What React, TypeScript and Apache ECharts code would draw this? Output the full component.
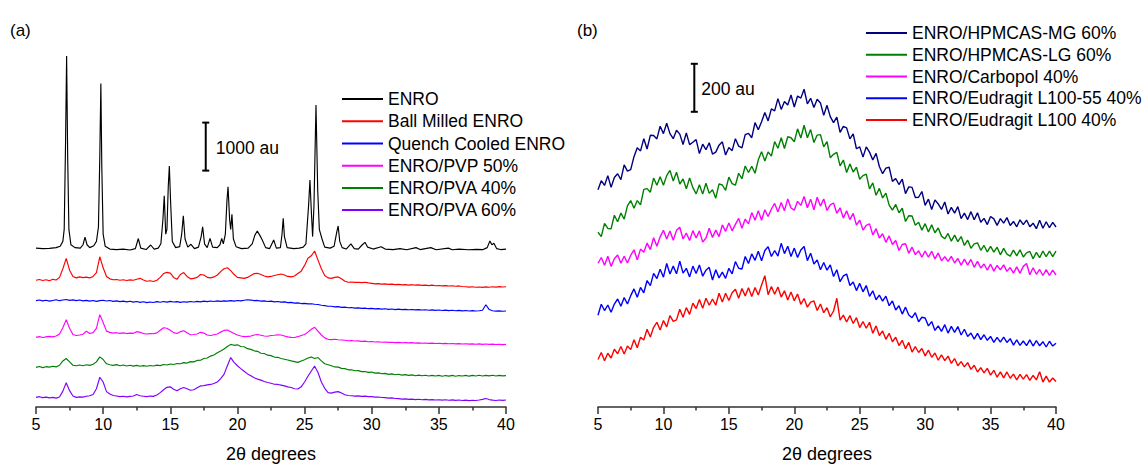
import { useEffect, useRef } from "react";
import * as echarts from "echarts";

const FONT = "'Liberation Sans', Arial, Helvetica, sans-serif";

// shared 2θ grid (degrees)
const twoTheta = [
  5, 5.25, 5.5, 5.75, 6, 6.25, 6.5, 6.75, 7, 7.25, 7.5, 7.75, 8, 8.25, 8.5, 8.75,
  9, 9.25, 9.5, 9.75, 10, 10.25, 10.5, 10.75, 11, 11.25, 11.5, 11.75, 12, 12.25, 12.5, 12.75,
  13, 13.25, 13.5, 13.75, 14, 14.25, 14.5, 14.75, 15, 15.25, 15.5, 15.75, 16, 16.25, 16.5, 16.75,
  17, 17.25, 17.5, 17.75, 18, 18.25, 18.5, 18.75, 19, 19.25, 19.5, 19.75, 20, 20.25, 20.5, 20.75,
  21, 21.25, 21.5, 21.75, 22, 22.25, 22.5, 22.75, 23, 23.25, 23.5, 23.75, 24, 24.25, 24.5, 24.75,
  25, 25.25, 25.5, 25.75, 26, 26.25, 26.5, 26.75, 27, 27.25, 27.5, 27.75, 28, 28.25, 28.5, 28.75,
  29, 29.25, 29.5, 29.75, 30, 30.25, 30.5, 30.75, 31, 31.25, 31.5, 31.75, 32, 32.25, 32.5, 32.75,
  33, 33.25, 33.5, 33.75, 34, 34.25, 34.5, 34.75, 35, 35.25, 35.5, 35.75, 36, 36.25, 36.5, 36.75,
  37, 37.25, 37.5, 37.75, 38, 38.25, 38.5, 38.75, 39, 39.25, 39.5, 39.75, 40,
];

// ---------- panel (a), intensities in au (stacked offsets included) ----------
const enroPattern = [
  [5, 3310], [5.5, 3300], [6, 3305], [6.5, 3320], [6.8, 3350], [7.0, 3450], [7.1, 3700], [7.2, 5500],
  [7.28, 7310], [7.36, 5200], [7.45, 3700], [7.6, 3380], [7.9, 3320], [8.3, 3310], [8.5, 3380], [8.65, 3540],
  [8.8, 3380], [9.0, 3320], [9.3, 3360], [9.5, 3450], [9.65, 3750], [9.75, 5200], [9.83, 6740], [9.9, 5000],
  [10.0, 3600], [10.15, 3350], [10.5, 3290], [11, 3280], [11.5, 3290], [12, 3270], [12.4, 3300], [12.62, 3510],
  [12.8, 3310], [13.2, 3280], [13.54, 3375], [13.8, 3290], [14.1, 3310], [14.3, 3400], [14.45, 3900], [14.55, 4400],
  [14.66, 3600], [14.75, 3700], [14.85, 4600], [14.93, 5020], [15.02, 4300], [15.15, 3450], [15.4, 3320], [15.7, 3340],
  [15.85, 3600], [15.97, 3985], [16.1, 3500], [16.3, 3330], [16.54, 3390], [16.8, 3300], [17.1, 3330], [17.3, 3550],
  [17.41, 3756], [17.55, 3400], [17.75, 3320], [17.96, 3514], [18.15, 3330], [18.5, 3320], [18.7, 3380], [18.83, 3514],
  [18.95, 3400], [19.1, 3600], [19.22, 4300], [19.3, 4590], [19.42, 3900], [19.5, 3700], [19.59, 4014], [19.7, 3500],
  [19.9, 3340], [20.3, 3300], [20.8, 3310], [21.1, 3400], [21.3, 3580], [21.48, 3667], [21.7, 3560], [21.85, 3480],
  [22.1, 3320], [22.4, 3300], [22.7, 3479], [22.9, 3310], [23.2, 3320], [23.32, 3600], [23.41, 3931], [23.5, 3550],
  [23.7, 3320], [24.2, 3300], [24.6, 3310], [24.9, 3330], [25.1, 3400], [25.3, 4200], [25.4, 4729], [25.5, 4100],
  [25.6, 3550], [25.7, 4200], [25.85, 6292], [25.98, 4500], [26.1, 3700], [26.15, 3650], [26.3, 3500], [26.5, 3330],
  [26.9, 3310], [27.2, 3350], [27.4, 3650], [27.5, 3771], [27.62, 3450], [27.8, 3320], [28.1, 3290], [28.45, 3400],
  [28.7, 3300], [29.0, 3290], [29.3, 3380], [29.5, 3431], [29.7, 3330], [30.1, 3290], [30.7, 3340], [31.0, 3290],
  [31.6, 3280], [32.1, 3300], [32.6, 3275], [33.3, 3320], [33.6, 3280], [34.4, 3320], [34.8, 3275], [35.7, 3310],
  [36.0, 3275], [36.5, 3290], [37.2, 3275], [37.8, 3285], [38.3, 3280], [38.6, 3320], [38.8, 3458], [38.95, 3380],
  [39.1, 3410], [39.3, 3300], [39.6, 3280], [40, 3290],
];

const ballMilled = [
  2640, 2655, 2635, 2650, 2630, 2660, 2645, 2700, 2880, 3095, 2850, 2720, 2690, 2710, 2695, 2705,
  2690, 2720, 2800, 3130, 2900, 2720, 2670, 2650, 2655, 2640, 2650, 2635, 2648, 2640, 2660, 2680,
  2645, 2620, 2630, 2615, 2640, 2700, 2780, 2805, 2790, 2700, 2660, 2760, 2800, 2720, 2670, 2680,
  2700, 2760, 2750, 2700, 2690, 2710, 2750, 2820, 2880, 2900, 2840, 2760, 2700, 2690, 2680, 2700,
  2740, 2780, 2785, 2760, 2730, 2710, 2720, 2740, 2755, 2770, 2750, 2720, 2710, 2730, 2780, 2830,
  2950, 3100, 3150, 3250, 3060, 2880, 2740, 2690, 2680, 2700, 2710, 2670, 2620, 2600, 2605, 2595,
  2600, 2590, 2598, 2585, 2575, 2565, 2570, 2560, 2565, 2555, 2560, 2550, 2555, 2545, 2550, 2540,
  2548, 2538, 2545, 2535, 2540, 2530, 2538, 2525, 2532, 2522, 2530, 2520, 2525, 2515, 2522, 2510,
  2505, 2498, 2505, 2495, 2500, 2492, 2502, 2495, 2505, 2498, 2508, 2500, 2505,
];

const quenchCooled = [
  2215, 2230, 2210, 2225, 2205, 2220, 2235, 2215, 2228, 2240, 2222, 2232, 2215, 2228, 2210, 2222,
  2205, 2218, 2200, 2215, 2225, 2208, 2218, 2200, 2212, 2195, 2205, 2190, 2202, 2185, 2198, 2180,
  2192, 2175, 2188, 2178, 2195, 2182, 2198, 2185, 2200, 2188, 2195, 2180, 2192, 2185, 2198, 2188,
  2200, 2190, 2205, 2195, 2208, 2198, 2210, 2200, 2212, 2205, 2215, 2205, 2218, 2210, 2225, 2235,
  2228, 2215, 2220, 2205, 2212, 2198, 2205, 2190, 2198, 2185, 2190, 2175, 2180, 2165, 2170, 2155,
  2160, 2148, 2150, 2140, 2135, 2120, 2112, 2100, 2098, 2085, 2090, 2075, 2080, 2068, 2072, 2060,
  2066, 2055, 2060, 2048, 2055, 2045, 2050, 2040, 2046, 2035, 2042, 2030, 2038, 2028, 2035, 2025,
  2032, 2022, 2030, 2020, 2026, 2015, 2024, 2012, 2020, 2010, 2018, 2008, 2015, 2005, 2012, 2002,
  2010, 2000, 2008, 2000, 2005, 2015, 2130, 2030, 2005, 1998, 2004, 1995, 2000,
];

const pvp50 = [
  1450, 1465, 1448, 1460, 1470, 1462, 1478, 1520, 1650, 1820, 1640, 1510, 1490, 1500, 1515, 1580,
  1530, 1550, 1640, 1925, 1760, 1580, 1555, 1540, 1548, 1535, 1545, 1530, 1540, 1535, 1570, 1555,
  1530, 1520, 1528, 1525, 1545, 1600, 1650, 1640, 1600, 1550, 1530, 1570, 1590, 1545, 1505, 1510,
  1520, 1555, 1540, 1500, 1490, 1505, 1520, 1560, 1595, 1605, 1570, 1530, 1500, 1480, 1465, 1470,
  1478, 1500, 1510, 1495, 1480, 1475, 1490, 1495, 1505, 1500, 1480, 1460, 1452, 1448, 1465, 1490,
  1510, 1560, 1620, 1660, 1580, 1500, 1440, 1410, 1405, 1412, 1400, 1395, 1390, 1380, 1385, 1375,
  1378, 1368, 1372, 1360, 1365, 1355, 1360, 1350, 1355, 1345, 1350, 1340, 1346, 1338, 1342, 1335,
  1340, 1332, 1336, 1328, 1334, 1325, 1330, 1322, 1328, 1320, 1325, 1318, 1322, 1315, 1320, 1312,
  1318, 1310, 1316, 1308, 1314, 1306, 1312, 1305, 1310, 1302, 1308, 1300, 1306,
];

const pva40 = [
  825, 845, 820, 840, 830, 850, 835, 870, 960, 1010, 940, 870, 860, 875, 858, 880,
  868, 890, 940, 1045, 990, 900, 880, 868, 882, 860, 875, 855, 870, 852, 868, 850,
  862, 848, 865, 855, 872, 862, 885, 875, 895, 885, 905, 900, 925, 915, 945, 940,
  970, 975, 1010, 1020, 1060, 1085, 1130, 1165, 1210, 1260, 1305, 1285, 1295, 1260, 1255, 1215,
  1200, 1170, 1160, 1120, 1115, 1080, 1070, 1040, 1035, 1010, 995, 980, 960, 945, 930, 960,
  985, 1020, 1040, 1010, 1030, 960, 900, 880, 860, 835, 830, 805, 800, 775, 775, 755,
  758, 738, 740, 722, 728, 705, 712, 692, 700, 680, 690, 672, 682, 665, 675, 660,
  670, 652, 665, 650, 662, 645, 660, 645, 658, 640, 655, 642, 658, 640, 655, 645,
  660, 642, 658, 645, 662, 645, 660, 648, 662, 645, 658, 648, 655,
];

const pva60 = [
  200, 215, 195, 205, 190, 200, 185, 210, 330, 505, 340, 230, 200, 210, 205, 225,
  235, 260, 380, 620, 520, 320, 270, 240, 230, 215, 225, 210, 220, 230, 260, 235,
  225, 215, 228, 222, 250, 300, 360, 410, 420, 370, 340, 380, 405, 380, 350, 360,
  400, 440, 445, 460, 470, 490, 520, 590, 680, 860, 1030, 930, 860, 800, 745, 690,
  650, 610, 580, 560, 530, 510, 495, 475, 470, 455, 440, 420, 405, 380, 375, 420,
  520, 640, 750, 850, 720, 520, 390, 300, 290, 310, 320, 290, 255, 240, 235, 228,
  232, 222, 226, 215, 215, 205, 208, 198, 195, 185, 190, 178, 175, 165, 170, 160,
  165, 155, 162, 150, 158, 148, 155, 145, 152, 142, 150, 140, 148, 138, 146, 135,
  142, 134, 140, 136, 145, 160, 178, 155, 142, 135, 145, 138, 146,
];

// ---------- panel (b) ----------
const hpmcasMG = [
  905, 943, 923, 964, 915, 956, 972, 947, 1009, 983, 989, 1043, 1080, 1067, 1118, 1075,
  1132, 1131, 1117, 1170, 1139, 1182, 1139, 1118, 1153, 1137, 1094, 1142, 1093, 1103, 1114, 1056,
  1095, 1072, 1101, 1054, 1062, 1091, 1105, 1050, 1081, 1068, 1118, 1087, 1080, 1135, 1140, 1122,
  1185, 1155, 1189, 1227, 1192, 1242, 1234, 1285, 1240, 1273, 1258, 1300, 1250, 1296, 1287, 1324,
  1263, 1286, 1248, 1282, 1267, 1215, 1257, 1210, 1185, 1208, 1144, 1169, 1163, 1117, 1138, 1076,
  1084, 1041, 1084, 1062, 1029, 1057, 1002, 972, 995, 999, 940, 952, 927, 949, 889, 917,
  915, 873, 874, 898, 840, 866, 823, 863, 846, 823, 854, 804, 832, 808, 835, 785,
  808, 781, 814, 780, 809, 770, 786, 760, 794, 784, 757, 785, 766, 789, 756, 773,
  751, 780, 760, 779, 751, 766, 743, 778, 745, 772, 747, 769, 750,
];

const hpmcasLG = [
  728, 710, 765, 744, 742, 799, 772, 808, 783, 838, 860, 828, 860, 842, 907, 910,
  895, 954, 924, 959, 924, 964, 986, 942, 978, 929, 950, 909, 954, 914, 888, 926,
  887, 932, 890, 905, 870, 930, 925, 903, 958, 931, 924, 974, 951, 1004, 977, 1003,
  974, 1030, 1064, 1025, 1063, 1045, 1106, 1078, 1122, 1077, 1126, 1122, 1105, 1159, 1121, 1174,
  1122, 1156, 1102, 1133, 1135, 1084, 1106, 1039, 1053, 1061, 1005, 1029, 977, 1013, 979, 999,
  949, 964, 970, 909, 934, 882, 911, 871, 891, 841, 820, 844, 809, 828, 773, 797,
  796, 757, 770, 737, 764, 729, 759, 726, 746, 712, 701, 723, 691, 716, 689, 710,
  673, 695, 661, 680, 684, 653, 673, 646, 669, 645, 666, 634, 661, 637, 629, 654,
  630, 655, 625, 642, 648, 618, 644, 622, 650, 626, 650, 627, 649,
];

const carbopol40 = [
  599, 623, 591, 628, 586, 618, 633, 599, 628, 600, 632, 655, 613, 658, 645, 683,
  656, 705, 670, 709, 736, 700, 733, 695, 736, 749, 700, 725, 694, 735, 704, 734,
  687, 704, 745, 706, 737, 710, 759, 732, 767, 734, 761, 786, 745, 783, 763, 810,
  778, 818, 778, 822, 794, 825, 848, 813, 852, 818, 867, 829, 820, 857, 840, 877,
  830, 866, 822, 874, 837, 867, 819, 842, 850, 807, 830, 787, 818, 781, 807, 758,
  779, 737, 757, 763, 717, 743, 704, 722, 686, 713, 677, 694, 652, 677, 680, 641,
  666, 635, 651, 624, 650, 624, 649, 617, 642, 609, 626, 607, 628, 600, 619, 591,
  616, 591, 615, 582, 607, 579, 596, 570, 595, 566, 590, 571, 592, 565, 581, 558,
  584, 557, 586, 598, 551, 580, 553, 573, 548, 572, 548, 570, 550,
];

const eudragitL10055 = [
  382, 428, 402, 425, 395, 429, 450, 420, 456, 429, 464, 492, 457, 498, 476, 527,
  506, 557, 535, 574, 541, 598, 554, 587, 555, 608, 558, 578, 542, 587, 556, 592,
  545, 570, 582, 529, 572, 538, 562, 536, 578, 555, 606, 578, 575, 627, 598, 638,
  611, 649, 609, 652, 668, 627, 652, 629, 682, 639, 670, 627, 662, 623, 654, 669,
  610, 641, 596, 613, 572, 602, 570, 592, 544, 572, 522, 546, 554, 506, 521, 485,
  515, 480, 506, 461, 484, 447, 466, 441, 462, 422, 442, 404, 422, 387, 416, 383,
  372, 393, 355, 374, 371, 338, 356, 319, 338, 315, 343, 308, 336, 311, 335, 300,
  324, 294, 308, 283, 307, 281, 301, 278, 294, 269, 290, 270, 291, 269, 285, 258,
  280, 257, 275, 256, 280, 254, 277, 255, 272, 250, 274, 254, 266,
];

const eudragitL100 = [
  198, 227, 193, 224, 204, 241, 222, 252, 221, 254, 239, 280, 247, 291, 279, 324,
  292, 332, 353, 321, 360, 334, 381, 357, 363, 407, 374, 414, 386, 433, 410, 448,
  411, 453, 424, 450, 424, 474, 438, 474, 444, 476, 491, 453, 494, 463, 497, 460,
  498, 467, 508, 547, 468, 502, 470, 500, 458, 484, 446, 479, 443, 471, 428, 452,
  416, 437, 442, 402, 429, 393, 414, 376, 400, 453, 362, 383, 354, 381, 348, 372,
  331, 356, 328, 353, 307, 338, 298, 317, 282, 307, 272, 291, 256, 278, 243, 269,
  229, 252, 227, 244, 213, 237, 207, 225, 195, 217, 193, 212, 182, 202, 172, 189,
  167, 185, 157, 174, 146, 164, 142, 161, 133, 153, 124, 146, 121, 146, 120, 137,
  113, 136, 116, 135, 111, 132, 113, 147, 104, 129, 104, 121, 106,
];

const namesA = ["ENRO", "Ball Milled ENRO", "Quench Cooled ENRO", "ENRO/PVP 50%", "ENRO/PVA 40%", "ENRO/PVA 60%"];
const colorsA = ["#000000", "#ff0000", "#0000ff", "#ff00ff", "#008000", "#8000ff"];
const namesB = ["ENRO/HPMCAS-MG 60%", "ENRO/HPMCAS-LG 60%", "ENRO/Carbopol 40%", "ENRO/Eudragit L100-55 40%", "ENRO/Eudragit L100 40%"];
const colorsB = ["#000080", "#008000", "#ff00ff", "#0000ff", "#ff0000"];

const xTicks = { min: 5, max: 40, interval: 5 };
const scaleBarA = [[17.64, 4925, 5925]];
const scaleBarB = [[12.36, 1230, 1430]];

function pair(values: number[]) {
  return twoTheta.map((x, i) => [x, values[i]]);
}

function scaleBarSeries(idx: number, data: number[][], label: string, gap: number) {
  return {
    type: "custom",
    xAxisIndex: idx,
    yAxisIndex: idx,
    silent: true,
    clip: false,
    z: 10,
    encode: { x: 0, y: [1, 2] },
    data,
    renderItem: (_p: any, api: any) => {
      const bot = api.coord([api.value(0), api.value(1)]);
      const top = api.coord([api.value(0), api.value(2)]);
      const cap = 3.5;
      const st = { stroke: "#000", lineWidth: 2 };
      return {
        type: "group",
        children: [
          { type: "line", shape: { x1: top[0], y1: top[1], x2: bot[0], y2: bot[1] }, style: st },
          { type: "line", shape: { x1: top[0] - cap, y1: top[1], x2: top[0] + cap, y2: top[1] }, style: st },
          { type: "line", shape: { x1: bot[0] - cap, y1: bot[1], x2: bot[0] + cap, y2: bot[1] }, style: st },
          {
            type: "text",
            x: top[0] + gap,
            y: (top[1] + bot[1]) / 2 + 1,
            style: { text: label, fill: "#000", fontSize: 17.5, fontFamily: FONT, align: "left", verticalAlign: "middle" },
          },
        ],
      };
    },
  };
}

function xAxis(gridIndex: number) {
  return {
    type: "value",
    gridIndex,
    ...xTicks,
    axisLine: { show: true, onZero: false, lineStyle: { color: "#333", width: 1.5 } },
    axisTick: { show: true, length: 7, lineStyle: { color: "#333", width: 1.5 } },
    minorTick: { show: true, splitNumber: 2, length: 3.5, lineStyle: { color: "#333", width: 1.5 } },
    splitLine: { show: false },
    axisLabel: { fontSize: 16, color: "#000", margin: 9, fontFamily: FONT },
    name: "2θ degrees",
    nameLocation: "middle",
    nameGap: 38,
    nameTextStyle: { fontSize: 18, color: "#000", fontFamily: FONT },
  };
}

function legend(left: number, top: number, lineHeight: number, data: string[]) {
  return {
    orient: "vertical",
    left,
    top,
    padding: 0,
    itemGap: 0,
    itemWidth: 41,
    itemHeight: 2,
    icon: "rect",
    selectedMode: false,
    textStyle: { fontSize: 17.5, lineHeight, color: "#000", fontFamily: FONT },
    data,
  };
}

function buildOption() {
  const seriesA: any[] = [enroPattern, pair(ballMilled), pair(quenchCooled), pair(pvp50), pair(pva40), pair(pva60)].map(
    (d, i) => ({
      type: "line",
      name: namesA[i],
      xAxisIndex: 0,
      yAxisIndex: 0,
      data: d,
      showSymbol: false,
      symbol: "none",
      color: colorsA[i],
      lineStyle: { width: 1.15, color: colorsA[i] },
    })
  );
  const seriesB: any[] = [hpmcasMG, hpmcasLG, carbopol40, eudragitL10055, eudragitL100].map((v, i) => ({
    type: "line",
    name: namesB[i],
    xAxisIndex: 1,
    yAxisIndex: 1,
    data: pair(v),
    showSymbol: false,
    symbol: "none",
    color: colorsB[i],
    lineStyle: { width: 1.4, color: colorsB[i] },
  }));
  return {
    animation: false,
    backgroundColor: "#ffffff",
    textStyle: { fontFamily: FONT },
    grid: [
      { left: 36, width: 470, top: 47, height: 360, outerBoundsMode: "none", containLabel: false },
      { left: 598, width: 458, top: 47, height: 360, outerBoundsMode: "none", containLabel: false },
    ],
    xAxis: [xAxis(0), xAxis(1)],
    yAxis: [
      { type: "value", gridIndex: 0, min: 0, max: 7500, show: false },
      { type: "value", gridIndex: 1, min: 0, max: 1500, show: false },
    ],
    legend: [legend(342, 88, 22.2, namesA), legend(866, 22, 21.8, namesB)],
    graphic: [
      { type: "text", x: 10, y: 30, style: { text: "(a)", fill: "#000", fontSize: 17, fontFamily: FONT, verticalAlign: "middle" } },
      { type: "text", x: 577, y: 30, style: { text: "(b)", fill: "#000", fontSize: 17, fontFamily: FONT, verticalAlign: "middle" } },
    ],
    series: [
      ...seriesA,
      ...seriesB,
      scaleBarSeries(0, scaleBarA, "1000 au", 10),
      scaleBarSeries(1, scaleBarB, "200 au", 7),
    ],
  };
}

export default function App() {
  const ref = useRef<HTMLDivElement>(null);
  useEffect(() => {
    if (!ref.current) return;
    const chart = echarts.init(ref.current, undefined, { renderer: "svg" });
    chart.setOption(buildOption() as any);
    return () => chart.dispose();
  }, []);
  return <div ref={ref} style={{ position: "absolute", left: 0, top: 0, width: 1146, height: 464 }} />;
}
